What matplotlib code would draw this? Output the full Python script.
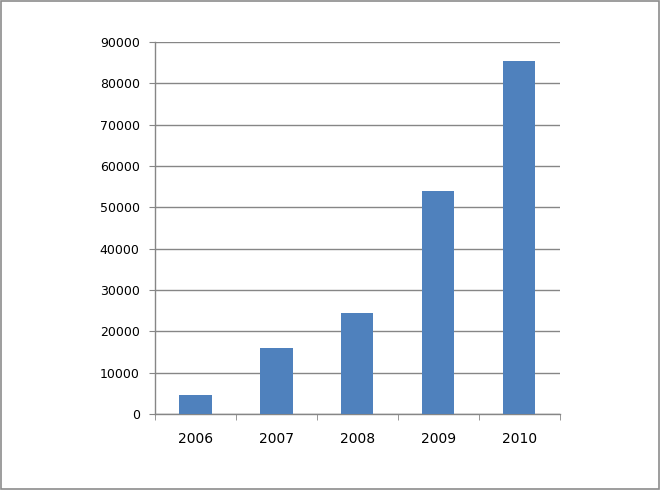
import matplotlib.pyplot as plt
from matplotlib.patches import Rectangle
import numpy as np

years = ['2006', '2007', '2008', '2009', '2010']
values = [4700, 16000, 24500, 53900, 85400]
y_ticks = [0, 10000, 20000, 30000, 40000, 50000, 60000, 70000, 80000, 90000]

bar_color = '#4F81BD'
grid_color = '#868686'

fig = plt.figure(figsize=(6.61, 4.90), dpi=100)
fig.patches.append(Rectangle((0.002, 0.003), 0.995, 0.994, transform=fig.transFigure,
                             fill=False, edgecolor='#8c8c8c', linewidth=1.2))

ax = fig.add_axes([0.2345, 0.155, 0.612, 0.759])
x = np.arange(len(years))
ax.bar(x, values, width=0.4, color=bar_color, zorder=3)

ax.set_xlim(-0.5, len(years) - 0.5)
ax.set_ylim(0, 90000)
ax.set_yticks(y_ticks)
ax.set_yticklabels([str(v) for v in y_ticks])
ax.yaxis.grid(True, color=grid_color, linewidth=1.0, zorder=0)

ax.set_xticks(x)
ax.set_xticklabels(years)
ax.set_xticks(np.arange(len(years) + 1) - 0.5, minor=True)
ax.tick_params(axis='x', which='major', length=0, pad=13, labelsize=10)
ax.tick_params(axis='x', which='minor', length=4, direction='out', color=grid_color)
ax.tick_params(axis='y', length=4, direction='out', color=grid_color, pad=7, labelsize=9)

for s in ['top', 'right']:
    ax.spines[s].set_visible(False)
for s in ['left', 'bottom']:
    ax.spines[s].set_color(grid_color)
    ax.spines[s].set_linewidth(1.0)

fig.savefig('out.png', dpi=100)
